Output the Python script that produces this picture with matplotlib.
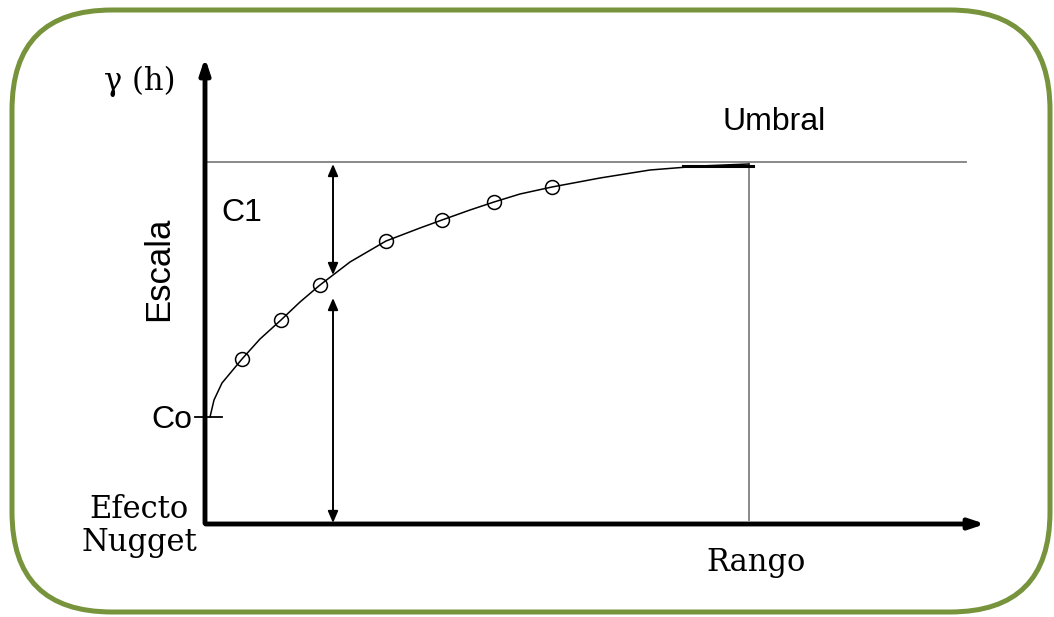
import matplotlib.pyplot as plt
from matplotlib.patches import FancyBboxPatch

# variogram sketch, units = lag h / gamma(h) (arbitrary)
nugget = 107
sill = 361
range_h = 544
h_max = 783
g_max = 469

# experimental points
sample_h = [37, 76, 115, 181, 237, 289, 347]
sample_g = [165, 204, 239, 283, 304, 322, 337]

# model curve
curve_h = [5, 9, 17, 37, 55, 76, 95, 115, 145, 181, 215, 237, 265, 289, 315, 347, 395, 445, 495, 544]
curve_g = [107, 124, 141, 165, 185, 204, 222, 239, 262, 283, 296, 304, 314, 322, 330, 337, 346, 354, 358, 360]

arrow_h = 128
c1_low = 249
co_top = 226

serif = ['DejaVu Serif']
sans = ['Liberation Sans', 'DejaVu Sans']

fig = plt.figure(figsize=(10.54, 6.17), dpi=100)
ax = fig.add_axes([0, 0, 1, 1])
ax.set_xlim(-205, 849)
ax.set_ylim(-93, 524)
ax.axis('off')

# rounded green frame
frame = FancyBboxPatch((-193, -88), 1038, 602,
                       boxstyle='round,pad=0,rounding_size=100',
                       fc='white', ec='#77933C', lw=3.6, zorder=0)
ax.add_patch(frame)

# axes with arrows
ax.annotate('', xy=(0, g_max), xytext=(0, -2),
            arrowprops=dict(arrowstyle='-|>,head_length=0.9,head_width=0.3', lw=3.5, color='black'))
ax.annotate('', xy=(h_max, 0), xytext=(-2, 0),
            arrowprops=dict(arrowstyle='-|>,head_length=0.9,head_width=0.3', lw=3.5, color='black'))

# sill and range
ax.plot([0, 761], [sill + 1, sill + 1], color='#808080', lw=1.3)
ax.plot([range_h, range_h], [4, sill], color='#808080', lw=1.3)

# nugget tick
ax.plot([-10, 17], [nugget, nugget], color='black', lw=1.3)

# model curve + points
ax.plot(curve_h, curve_g, color='black', lw=1.1)
ax.plot([478, 548], [358, 358], color='black', lw=2.2)
ax.plot(sample_h, sample_g, ls='none', marker='o', ms=10, mfc='none', mec='black', mew=1.1)

# C1 / Co arrows
arr = dict(arrowstyle='<|-|>,head_length=0.7,head_width=0.3', lw=1.4, color='black', shrinkA=0, shrinkB=0)
ax.annotate('', xy=(arrow_h, sill - 1), xytext=(arrow_h, c1_low), arrowprops=arr)
ax.annotate('', xy=(arrow_h, co_top), xytext=(arrow_h, 1), arrowprops=arr)

# labels
ax.text(-29, 443, 'γ (h)', family=serif, fontsize=22, ha='right', va='center')
ax.text(569, 402, 'Umbral', family=sans, fontsize=23, ha='center', va='center')
ax.text(37, 311, 'C1', family=sans, fontsize=23, ha='center', va='center')
ax.text(-46, 255, 'Escala', family=sans, fontsize=25, ha='center', va='center', rotation=90)
ax.text(-13, 104, 'Co', family=sans, fontsize=23, ha='right', va='center')
ax.text(-66, -2, 'Efecto\nNugget', family=serif, fontsize=22, ha='center', va='center', linespacing=1.05)
ax.text(551, -39, 'Rango', family=serif, fontsize=22, ha='center', va='center')

fig.savefig('out.png', dpi=100)
